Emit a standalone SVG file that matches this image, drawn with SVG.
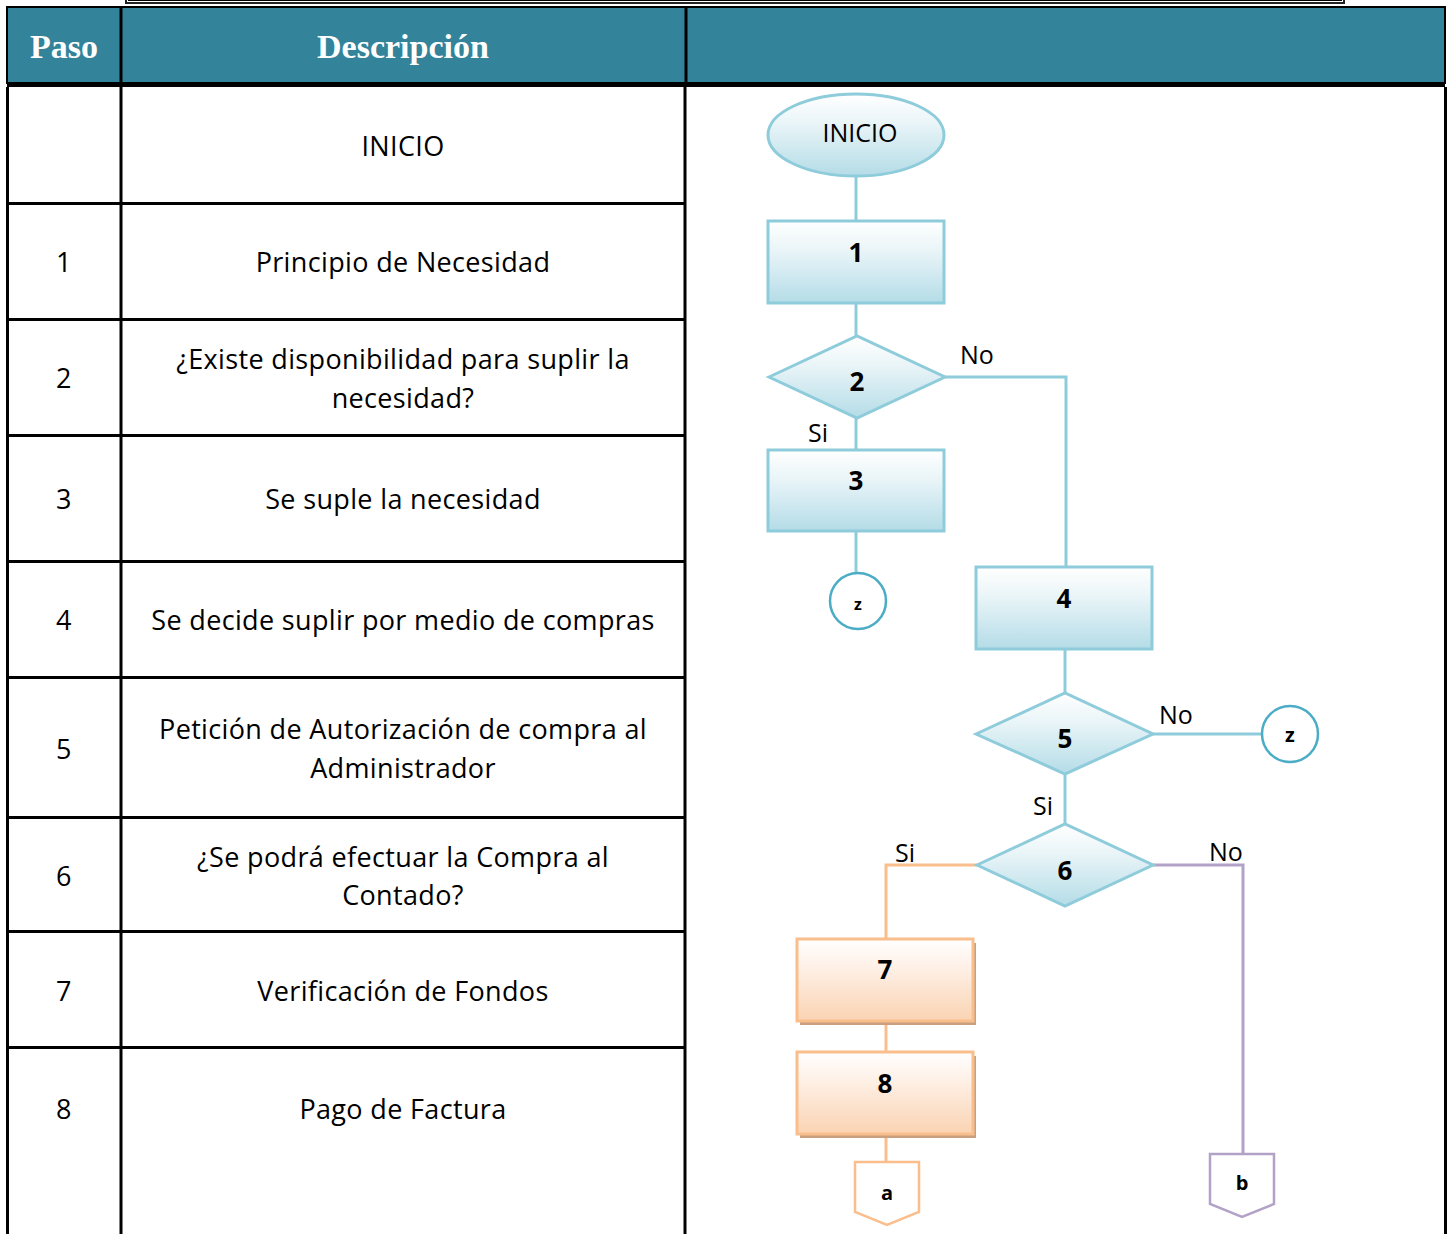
<svg xmlns="http://www.w3.org/2000/svg" width="1449" height="1234" viewBox="0 0 1449 1234">
<defs>
<linearGradient id="gBlue" x1="0" y1="0" x2="0" y2="1">
<stop offset="0" stop-color="#FFFFFF"/><stop offset="0.35" stop-color="#EAF5F8"/><stop offset="1" stop-color="#B4DCE7"/>
</linearGradient>
<linearGradient id="gOrange" x1="0" y1="0" x2="0" y2="1">
<stop offset="0" stop-color="#FFFFFF"/><stop offset="0.35" stop-color="#FEF0E6"/><stop offset="1" stop-color="#FAD3B2"/>
</linearGradient>
<style>
.grid{stroke:#000;stroke-width:3;fill:none}
.cell{font-family:"Open Sans","Liberation Sans",sans-serif;font-size:27px;letter-spacing:0.35px;fill:#000;text-anchor:middle}
.head{font-family:"Liberation Serif",serif;font-weight:bold;font-size:34px;fill:#fff;text-anchor:middle}
.blue{fill:url(#gBlue);stroke:#8ECCDB;stroke-width:3}
.orange{fill:url(#gOrange);stroke:#F9BE8C;stroke-width:3}
.shadow{fill:#C9A07F}
.conn{fill:#fff;stroke:#4BACC6;stroke-width:2.5}
.lbl{font-family:"Open Sans","Liberation Sans",sans-serif;font-weight:bold;font-size:26px;fill:#000;text-anchor:middle}
.yn{font-family:"Open Sans","Liberation Sans",sans-serif;font-size:25px;fill:#000}
.lb{stroke:#8ECCDB;stroke-width:3;fill:none}
.lo{stroke:#F9BE8C;stroke-width:3;fill:none}
.lp{stroke:#B3A2C7;stroke-width:3;fill:none}
</style>
</defs>
<rect width="1449" height="1234" fill="#fff"/>
<!-- top frame -->
<rect x="126" y="-10" width="1218" height="13" fill="none" stroke="#222" stroke-width="2"/>
<rect x="128.5" y="-10" width="1213" height="10.5" fill="none" stroke="#000" stroke-width="1"/>
<!-- header -->
<g id="header">
<rect x="7" y="7" width="1438" height="76" fill="#33839B" stroke="#000" stroke-width="2"/>
<rect x="7" y="82" width="1438" height="5" fill="#000"/>
<line x1="121" y1="7" x2="121" y2="84" class="grid"/>
<line x1="686" y1="7" x2="686" y2="84" class="grid"/>
<text x="64" y="58" class="head">Paso</text>
<text x="403" y="58" class="head">Descripción</text>
</g>
<!-- table grid -->
<g id="table">
<line x1="7.5" y1="87" x2="7.5" y2="1234" class="grid"/>
<line x1="121" y1="87" x2="121" y2="1234" class="grid"/>
<line x1="685" y1="87" x2="685" y2="1047" class="grid" stroke-width="4"/>
<line x1="685" y1="1047" x2="685" y2="1234" class="grid"/>
<line x1="1445.5" y1="87" x2="1445.5" y2="1234" class="grid"/>
<line x1="7" y1="203.5" x2="686" y2="203.5" class="grid"/>
<line x1="7" y1="319.5" x2="686" y2="319.5" class="grid"/>
<line x1="7" y1="435.5" x2="686" y2="435.5" class="grid"/>
<line x1="7" y1="561.5" x2="686" y2="561.5" class="grid"/>
<line x1="7" y1="677.5" x2="686" y2="677.5" class="grid"/>
<line x1="7" y1="817.5" x2="686" y2="817.5" class="grid"/>
<line x1="7" y1="931.5" x2="686" y2="931.5" class="grid"/>
<line x1="7" y1="1047.5" x2="686" y2="1047.5" class="grid"/>
</g>
<g id="rows">
<text x="403" y="156" class="cell">INICIO</text>
<text x="64" y="272" class="cell">1</text>
<text x="403" y="272" class="cell">Principio de Necesidad</text>
<text x="64" y="388" class="cell">2</text>
<text x="403" y="369" class="cell">¿Existe disponibilidad para suplir la</text>
<text x="403" y="408" class="cell">necesidad?</text>
<text x="64" y="509" class="cell">3</text>
<text x="403" y="509" class="cell">Se suple la necesidad</text>
<text x="64" y="630" class="cell">4</text>
<text x="403" y="630" class="cell">Se decide suplir por medio de compras</text>
<text x="64" y="759" class="cell">5</text>
<text x="403" y="739" class="cell">Petición de Autorización de compra al</text>
<text x="403" y="778" class="cell">Administrador</text>
<text x="64" y="886" class="cell">6</text>
<text x="403" y="867" class="cell">¿Se podrá efectuar la Compra al</text>
<text x="403" y="905" class="cell">Contado?</text>
<text x="64" y="1001" class="cell">7</text>
<text x="403" y="1001" class="cell">Verificación de Fondos</text>
<text x="64" y="1119" class="cell">8</text>
<text x="403" y="1119" class="cell">Pago de Factura</text>
</g>
<!-- connectors -->
<g id="connectors">
<line x1="856" y1="176" x2="856" y2="221" class="lb"/>
<line x1="856" y1="303" x2="856" y2="336" class="lb"/>
<line x1="856" y1="418" x2="856" y2="450" class="lb"/>
<polyline points="945,377 1066,377 1066,567" class="lb"/>
<line x1="856" y1="531" x2="856" y2="573" class="lb"/>
<line x1="1065" y1="649" x2="1065" y2="693" class="lb"/>
<line x1="1153" y1="734" x2="1262" y2="734" class="lb"/>
<line x1="1065" y1="774" x2="1065" y2="824" class="lb"/>
<polyline points="977,865 886,865 886,939" class="lo"/>
<polyline points="1153,865 1243,865 1243,1154" class="lp"/>
<line x1="886" y1="1021" x2="886" y2="1052" class="lo"/>
<line x1="886" y1="1134" x2="886" y2="1162" class="lo"/>
<text x="960" y="364" class="yn">No</text>
<text x="808" y="442" class="yn">Si</text>
<text x="1159" y="724" class="yn">No</text>
<text x="1033" y="815" class="yn">Si</text>
<text x="895" y="862" class="yn">Si</text>
<text x="1209" y="861" class="yn">No</text>
</g>
<!-- nodes -->
<g id="n-inicio">
<ellipse cx="856" cy="135" rx="88" ry="41" class="blue"/>
<text x="860" y="142" class="lbl" style="font-weight:normal;font-size:25px">INICIO</text>
</g>
<g id="n1">
<rect x="768" y="221" width="176" height="82" class="blue"/>
<text x="856" y="262" class="lbl">1</text>
</g>
<g id="n2">
<polygon points="769,377 857,336 945,377 857,418" class="blue"/>
<text x="857" y="391" class="lbl">2</text>
</g>
<g id="n3">
<rect x="768" y="450" width="176" height="81" class="blue"/>
<text x="856" y="490" class="lbl">3</text>
</g>
<g id="z1">
<circle cx="858" cy="601" r="28" class="conn"/>
<text x="858" y="610" class="lbl" style="font-size:16px">z</text>
</g>
<g id="n4">
<rect x="976" y="567" width="176" height="82" class="blue"/>
<text x="1064" y="608" class="lbl">4</text>
</g>
<g id="n5">
<polygon points="976,734 1065,693 1153,734 1065,774" class="blue"/>
<text x="1065" y="748" class="lbl">5</text>
</g>
<g id="z2">
<circle cx="1290" cy="734" r="28" class="conn"/>
<text x="1290" y="742" class="lbl" style="font-size:20px">z</text>
</g>
<g id="n6">
<polygon points="977,865 1065,824 1153,865 1065,906" class="blue"/>
<text x="1065" y="880" class="lbl">6</text>
</g>
<g id="n7">
<rect x="800" y="943" width="176" height="82" class="shadow"/>
<rect x="797" y="939" width="176" height="82" class="orange"/>
<text x="885" y="979" class="lbl">7</text>
</g>
<g id="n8">
<rect x="800" y="1056" width="176" height="82" class="shadow"/>
<rect x="797" y="1052" width="176" height="82" class="orange"/>
<text x="885" y="1093" class="lbl">8</text>
</g>
<g id="a">
<polygon points="855,1162 919,1162 919,1212 887,1225 855,1212" fill="#fff" stroke="#F9BE8C" stroke-width="2.5"/>
<text x="887" y="1200" class="lbl" style="font-size:20px">a</text>
</g>
<g id="b">
<polygon points="1210,1154 1274,1154 1274,1204 1242,1217 1210,1204" fill="#fff" stroke="#B3A2C7" stroke-width="2.5"/>
<text x="1242" y="1190" class="lbl" style="font-size:20px">b</text>
</g>
</svg>
